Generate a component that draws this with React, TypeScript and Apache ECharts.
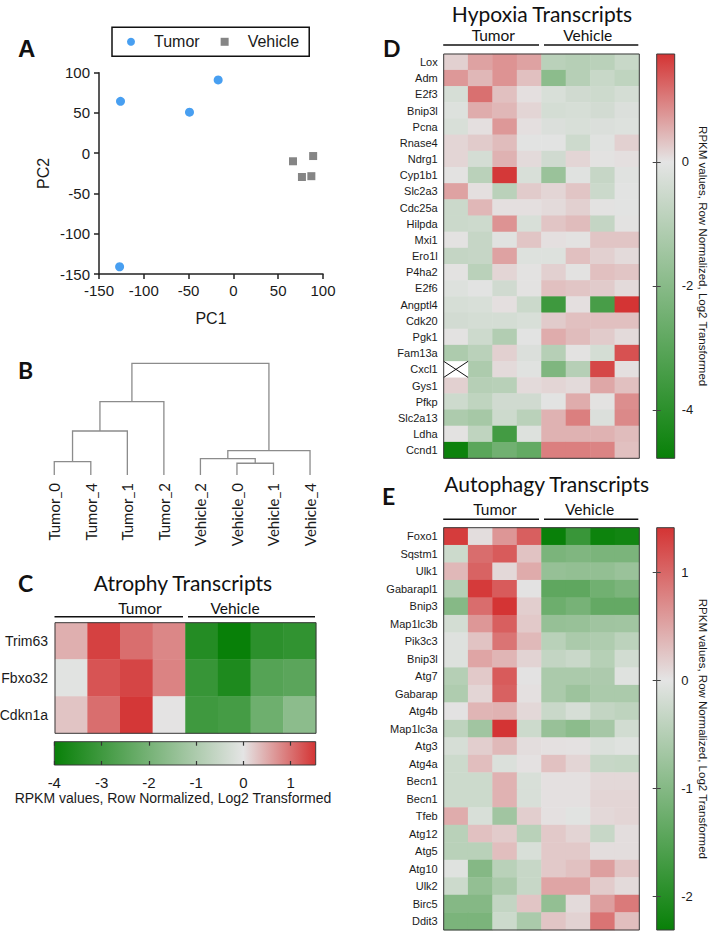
import React, { useEffect, useRef } from "react";
import * as echarts from "echarts";

// ---------------- DATA ----------------
const GROUPS = ["Tumor", "Vehicle"];
const SAMPLES = ["T1", "T2", "T3", "T4", "V1", "V2", "V3", "V4"];

// Panel A – PCA
const TUMOR_PC1 = [-126, -49, -17, -127];
const TUMOR_PC2 = [64.5, 51, 91, -141];
const VEHICLE_PC1 = [66.5, 89, 76.5, 87];
const VEHICLE_PC2 = [-10, -3.5, -29.5, -28.5];
const PC_MIN = -150;
const PC_MAX = 100;
const PC_STEP = 50;

// Panel B – dendrogram (leaves 0..7, merges create nodes 8..14)
const LEAVES = ["Tumor_0", "Tumor_4", "Tumor_1", "Tumor_2", "Vehicle_2", "Vehicle_0", "Vehicle_1", "Vehicle_4"];
const MERGE_A = [0, 5, 4, 10, 8, 12, 13];
const MERGE_B = [1, 6, 9, 7, 2, 3, 11];
const MERGE_H = [1.19, 1.05, 1.46, 2.18, 3.94, 6.56, 10];

// Panel C – atrophy
const ATROPHY_GENES = ["Trim63", "Fbxo32", "Cdkn1a"];
const ATROPHY_VALUES = [
  [0.46, 1.42, 1.03, 0.81, -3.5, -4.0, -3.35, -3.25],
  [-0.05, 1.25, 1.38, 0.85, -3.15, -3.6, -2.6, -2.5],
  [0.28, 1.03, 1.5, 0.0, -3.0, -2.9, -2.15, -1.6],
];
const ATROPHY_RANGE = [-4, 1.53];
const ATROPHY_TICKS = [-4, -3, -2, -1, 0, 1];

// Panel D – hypoxia
const HYPOXIA_GENES = ["Lox", "Adm", "E2f3", "Bnip3l", "Pcna", "Rnase4", "Ndrg1", "Cyp1b1", "Slc2a3", "Cdc25a", "Hilpda", "Mxi1", "Ero1l", "P4ha2", "E2f6", "Angptl4", "Cdk20", "Pgk1", "Fam13a", "Cxcl1", "Gys1", "Pfkp", "Slc2a13", "Ldha", "Ccnd1"];
const HYPOXIA_VALUES: (number | null)[][] = [
  [0.2, 0.65, 0.8, 0.65, -0.9, -1.0, -0.9, -0.6],
  [0.75, 0.45, 0.8, 0.35, -1.9, -1.0, -0.6, -0.8],
  [-0.3, 1.15, 0.35, 0.05, -0.25, -0.45, -0.5, -0.35],
  [-0.15, 0.55, 0.45, 0.15, -0.35, -0.3, -0.4, -0.2],
  [-0.25, 0.05, 0.75, 0.05, -0.2, -0.25, -0.2, -0.15],
  [0.15, 0.25, 0.4, -0.05, -0.05, -0.5, -0.1, 0.2],
  [0.15, -0.35, 0.5, 0.1, -0.45, 0.15, 0.0, 0.05],
  [0.0, -0.9, 1.7, -0.25, -1.6, -0.1, -0.65, -0.1],
  [0.65, 0.05, -0.9, 0.25, 0.15, 0.3, -0.55, -0.05],
  [-0.55, 0.45, 0.05, 0.05, 0.1, 0.2, 0.0, -0.05],
  [-0.55, -0.5, 0.8, -0.25, 0.3, 0.4, -0.7, 0.0],
  [0.0, -0.65, -0.1, 0.3, 0.05, 0.0, 0.3, 0.3],
  [-0.7, -0.65, 0.65, -0.15, -0.15, 0.35, 0.2, 0.1],
  [0.0, -0.9, 0.15, 0.0, 0.2, 0.0, 0.35, 0.3],
  [-0.15, -0.05, -0.45, 0.0, 0.35, 0.3, 0.25, 0.1],
  [-0.3, -0.25, 0.05, -0.55, -3.6, 0.05, -3.4, 1.74],
  [-0.4, -0.35, -0.35, -0.25, 0.25, 0.35, 0.35, 0.35],
  [0.0, -0.5, -1.1, -0.05, 0.55, 0.4, 0.25, 0.1],
  [-1.2, -0.9, 0.2, -0.2, -1.0, 0.0, -0.35, 1.45],
  [null, -1.2, 0.1, -0.1, -2.2, -1.0, 1.55, 0.05],
  [0.2, -1.0, -0.95, 0.1, 0.15, 0.1, 0.6, 0.35],
  [-0.5, -0.8, -0.45, -0.45, -0.05, 0.55, 0.0, 0.85],
  [-1.2, -1.35, -0.5, -0.9, 0.5, 1.0, -0.2, 0.9],
  [0.0, -0.8, -3.5, -0.15, 0.5, 0.5, 0.5, 0.4],
  [-4.7, -3.0, -2.5, -2.8, 1.0, 1.0, 0.95, 0.35],
];
const HYPOXIA_RANGE = [-4.78, 1.74];
const HYPOXIA_TICKS = [-4, -2, 0];

// Panel E – autophagy
const AUTOPHAGY_GENES = ["Foxo1", "Sqstm1", "Ulk1", "Gabarapl1", "Bnip3", "Map1lc3b", "Pik3c3", "Bnip3l", "Atg7", "Gabarap", "Atg4b", "Map1lc3a", "Atg3", "Atg4a", "Becn1", "Becn1", "Tfeb", "Atg12", "Atg5", "Atg10", "Ulk2", "Birc5", "Ddit3"];
const AUTOPHAGY_VALUES: (number | null)[][] = [
  [1.35, 0.05, 0.63, 1.07, -2.3, -1.8, -2.25, -2.2],
  [-0.25, 0.95, 1.1, 0.26, -1.1, -1.05, -1.1, -1.1],
  [0.35, 1.03, 0.1, 0.46, -0.82, -0.85, -0.85, -0.78],
  [-0.5, 1.36, 1.1, 0.0, -1.4, -1.4, -1.2, -1.1],
  [-0.98, 0.95, 1.41, 0.18, -1.25, -1.15, -1.35, -1.35],
  [-0.18, 0.62, 1.07, 0.22, -0.82, -0.8, -0.72, -0.7],
  [-0.07, 0.26, 0.9, 0.34, -0.45, -0.6, -0.55, -0.42],
  [-0.08, 0.5, 0.38, 0.14, -0.35, -0.28, -0.48, -0.2],
  [-0.5, 0.22, 1.1, 0.0, -0.6, -0.6, -0.58, -0.05],
  [-0.55, 0.12, 1.05, 0.03, -0.6, -0.75, -0.6, -0.6],
  [0.0, 0.38, 0.4, 0.1, -0.28, -0.15, -0.35, -0.4],
  [-0.4, -0.7, 1.41, -0.25, -0.8, -0.92, -0.65, -0.2],
  [-0.15, 0.18, 0.34, 0.05, 0.03, 0.02, -0.1, -0.05],
  [-0.25, 0.3, -0.1, 0.02, 0.28, 0.12, -0.3, -0.32],
  [-0.25, -0.25, 0.4, -0.12, 0.03, 0.03, 0.1, 0.1],
  [-0.25, -0.25, 0.4, -0.12, 0.03, 0.03, 0.12, 0.12],
  [0.45, -0.12, -0.7, 0.18, 0.03, -0.03, 0.1, 0.12],
  [-0.45, 0.28, 0.2, -0.45, 0.22, 0.13, -0.3, 0.05],
  [-0.45, -0.45, 0.3, -0.12, 0.22, 0.22, 0.05, 0.05],
  [-0.05, -1.0, -0.45, -0.3, 0.22, 0.28, 0.55, 0.25],
  [-0.25, -0.85, -0.6, -0.3, 0.5, 0.5, 0.2, 0.08],
  [-1.0, -1.0, -0.35, 0.25, -0.85, 0.08, 0.55, 0.85],
  [-1.1, -1.1, -0.25, -0.6, 0.25, 0.15, 0.9, 0.3],
];
const AUTOPHAGY_RANGE = [-2.31, 1.41];
const AUTOPHAGY_TICKS = [-2, -1, 0, 1];

const BAR_LABEL = "RPKM values, Row Normalized, Log2 Transformed";

// ---------------- STYLE / LAYOUT ----------------
const SANS = '"Liberation Sans", Arial, Helvetica, sans-serif';
const HUMAN = 'Lato, "Open Sans", sans-serif';
const INK = "#1a1a1a";
const GREEN = [8, 128, 8];
const GRAY = [228, 228, 228];
const RED = [212, 52, 52];

const L = {
  scatter: { left: 99, top: 72.7, width: 224, height: 201.3 },
  dendro: { left: 36, top: 363.3, width: 292.3, height: 111.7 },
  cHeat: { left: 55, top: 622.7, width: 261, height: 110.6 },
  cBar: { left: 54.3, top: 741.7, width: 261.4, height: 23.3 },
  dHeat: { left: 443.7, top: 54, width: 195.6, height: 404.3 },
  dBar: { left: 656.7, top: 54, width: 18, height: 404.3 },
  eHeat: { left: 443.7, top: 527.7, width: 195.6, height: 402.3 },
  eBar: { left: 656.7, top: 527.7, width: 17.5, height: 402.3 },
};

function mix(a: number[], b: number[], t: number) {
  const c = a.map((v, i) => Math.round(v + (b[i] - v) * t));
  return `rgb(${c[0]},${c[1]},${c[2]})`;
}
function scaleColors(min: number, max: number) {
  const n = 80;
  const out: string[] = [];
  for (let i = 0; i <= n; i++) {
    const v = min + ((max - min) * i) / n;
    out.push(v < 0 ? mix(GRAY, GREEN, v / min) : mix(GRAY, RED, v / max));
  }
  return out;
}
function cells(m: (number | null)[][]) {
  const out: number[][] = [];
  m.forEach((row, r) => row.forEach((v, c) => { if (v !== null) out.push([c, r, v]); }));
  return out;
}
function missing(m: (number | null)[][]) {
  const out: number[][] = [];
  m.forEach((row, r) => row.forEach((v, c) => { if (v === null) out.push([c, r]); }));
  return out;
}
function dendroSegments() {
  const xs: number[] = LEAVES.map((_, i) => i);
  const hs: number[] = LEAVES.map(() => 0);
  const segs: number[][] = [];
  MERGE_A.forEach((a, k) => {
    const b = MERGE_B[k];
    const h = MERGE_H[k];
    segs.push([xs[a], hs[a], xs[b], hs[b], h]);
    xs.push((xs[a] + xs[b]) / 2);
    hs.push(h);
  });
  return segs;
}
function gradient(range: number[], vertical: boolean) {
  const f0 = -range[0] / (range[1] - range[0]);
  const g = `rgb(${GREEN.join(",")})`, m = `rgb(${GRAY.join(",")})`, r = `rgb(${RED.join(",")})`;
  return vertical
    ? new echarts.graphic.LinearGradient(0, 0, 0, 1, [
        { offset: 0, color: r }, { offset: 1 - f0, color: m }, { offset: 1, color: g }])
    : new echarts.graphic.LinearGradient(0, 0, 1, 0, [
        { offset: 0, color: g }, { offset: f0, color: m }, { offset: 1, color: r }]);
}
function grid(r: any) {
  return { ...r, containLabel: false, outerBoundsMode: "none", show: false };
}
function frame(r: any) {
  return {
    type: "rect", z: 20, silent: true,
    shape: { x: r.left, y: r.top, width: r.width, height: r.height },
    style: { fill: "none", stroke: "#3a3a3a", lineWidth: 1 },
  };
}
function barRect(r: any, range: number[], vertical: boolean) {
  return {
    type: "rect", z: 1, silent: true,
    shape: { x: r.left, y: r.top, width: r.width, height: r.height },
    style: { fill: gradient(range, vertical), stroke: "#3a3a3a", lineWidth: 1 },
  };
}
function label(text: string, x: number, y: number, size: number, family: string, weight = "normal", align = "left") {
  return {
    type: "text", z: 20, silent: true, x, y,
    style: { text, fill: "#111", fontSize: size, fontFamily: family, fontWeight: weight, align, verticalAlign: "middle" },
  };
}
function header(r: any, lineY: number, textY: number, textX: number[]) {
  const mid = r.left + r.width / 2;
  const segs = [[r.left - 0.5, mid - 2.5], [mid + 2.5, r.left + r.width - 1]];
  const out: any[] = [];
  segs.forEach((s, i) => {
    out.push({ type: "line", z: 20, silent: true, shape: { x1: s[0], y1: lineY, x2: s[1], y2: lineY }, style: { stroke: "#111", lineWidth: 1.6 } });
    out.push(label(GROUPS[i], textX[i], textY, 15.5, HUMAN, "normal", "center"));
  });
  return out;
}
function heatX(gridIndex: number) {
  return { type: "category", gridIndex, data: SAMPLES, show: false, splitArea: { show: false } };
}
function heatY(gridIndex: number, genes: string[], size: number, margin: number) {
  return {
    type: "category", gridIndex, data: genes, inverse: true,
    axisLine: { show: false }, axisTick: { show: false }, splitArea: { show: false },
    axisLabel: { fontSize: size, fontFamily: SANS, color: INK, margin, interval: 0 },
  };
}
function barAxisV(gridIndex: number, range: number[], ticks: number[], position: string, labels: boolean) {
  return {
    type: "value", gridIndex, position, min: range[0], max: range[1], z: 5,
    axisLine: { show: false }, splitLine: { show: false },
    axisTick: { show: true, inside: true, length: 4, customValues: ticks, lineStyle: { color: "#444", width: 1 } },
    axisLabel: { show: labels, customValues: ticks, fontSize: 13, fontFamily: SANS, color: INK, margin: 7 },
    name: labels ? BAR_LABEL : "", nameLocation: "middle", nameRotate: -90, nameGap: 21,
    nameTextStyle: { fontSize: 11.5, fontFamily: SANS, color: INK },
  };
}

export default function App() {
  const ref = useRef<HTMLDivElement>(null);
  useEffect(() => {
    if (!ref.current) return;
    const chart = echarts.init(ref.current, undefined, { renderer: "svg" });
    const axisLine = { show: true, onZero: false, lineStyle: { color: "#222", width: 1.5 } };
    const option: any = {
      animation: false,
      textStyle: { fontFamily: SANS },
      grid: [grid(L.scatter), grid(L.dendro), grid(L.cHeat), grid(L.cBar), grid(L.dHeat), grid(L.dBar), grid(L.eHeat), grid(L.eBar)],
      legend: {
        left: 112, top: 27.3, orient: "horizontal",
        padding: [6, 10, 6, 15], itemGap: 21, itemWidth: 8, itemHeight: 8,
        borderColor: "#111", borderWidth: 1.5, selectedMode: false,
        textStyle: { fontSize: 16, fontFamily: SANS, color: INK, lineHeight: 17, padding: [0, 0, 0, 14] },
        data: [{ name: "Tumor", icon: "circle" }, { name: "Vehicle", icon: "rect" }],
      },
      xAxis: [
        {
          type: "value", gridIndex: 0, min: PC_MIN, max: PC_MAX, interval: PC_STEP,
          axisLine, axisTick: { show: true, length: 5, lineStyle: { color: "#222", width: 1.5 } },
          axisLabel: { fontSize: 15, color: INK, margin: 9, fontFamily: SANS }, splitLine: { show: false },
          name: "PC1", nameLocation: "middle", nameGap: 36, nameTextStyle: { fontSize: 16, color: INK, fontFamily: SANS },
        },
        {
          type: "category", gridIndex: 1, data: LEAVES, boundaryGap: true,
          axisLine: { show: false }, axisTick: { show: false },
          axisLabel: { rotate: 90, fontSize: 15, fontFamily: HUMAN, color: INK, margin: 8, interval: 0 },
        },
        { type: "value", gridIndex: 1, min: -0.5, max: 7.5, show: false, position: "top" },
        heatX(2),
        {
          type: "value", gridIndex: 3, min: ATROPHY_RANGE[0], max: ATROPHY_RANGE[1], position: "bottom", z: 5,
          axisLine: { show: false }, splitLine: { show: false },
          axisTick: { show: true, inside: true, length: 4, customValues: ATROPHY_TICKS, lineStyle: { color: "#333", width: 1.2 } },
          axisLabel: { customValues: ATROPHY_TICKS, fontSize: 15, color: INK, margin: 10, fontFamily: SANS },
          name: BAR_LABEL, nameLocation: "middle", nameGap: 26,
          nameTextStyle: { fontSize: 14, color: INK, fontFamily: SANS, padding: [0, 24, 0, 0] },
        },
        {
          type: "value", gridIndex: 3, min: ATROPHY_RANGE[0], max: ATROPHY_RANGE[1], position: "top", z: 5,
          axisLine: { show: false }, splitLine: { show: false },
          axisTick: { show: true, inside: true, length: 4, customValues: ATROPHY_TICKS, lineStyle: { color: "#333", width: 1.2 } },
          axisLabel: { show: false },
        },
        heatX(4),
        { type: "value", gridIndex: 5, show: false },
        heatX(6),
        { type: "value", gridIndex: 7, show: false },
      ],
      yAxis: [
        {
          type: "value", gridIndex: 0, min: PC_MIN, max: PC_MAX, interval: PC_STEP,
          axisLine, axisTick: { show: true, length: 5, lineStyle: { color: "#222", width: 1.5 } },
          axisLabel: { fontSize: 15, color: INK, margin: 9, fontFamily: SANS }, splitLine: { show: false },
          name: "PC2", nameLocation: "middle", nameGap: 48, nameTextStyle: { fontSize: 16, color: INK, fontFamily: SANS },
        },
        { type: "value", gridIndex: 1, min: 0, max: 10, show: false },
        heatY(2, ATROPHY_GENES, 14, 7),
        { type: "value", gridIndex: 3, show: false },
        heatY(4, HYPOXIA_GENES, 11, 6),
        barAxisV(5, HYPOXIA_RANGE, HYPOXIA_TICKS, "right", true),
        barAxisV(5, HYPOXIA_RANGE, HYPOXIA_TICKS, "left", false),
        heatY(6, AUTOPHAGY_GENES, 11, 6),
        barAxisV(7, AUTOPHAGY_RANGE, AUTOPHAGY_TICKS, "right", true),
        barAxisV(7, AUTOPHAGY_RANGE, AUTOPHAGY_TICKS, "left", false),
      ],
      visualMap: [
        { type: "continuous", show: false, seriesIndex: 3, min: ATROPHY_RANGE[0], max: ATROPHY_RANGE[1], inRange: { color: scaleColors(ATROPHY_RANGE[0], ATROPHY_RANGE[1]) } },
        { type: "continuous", show: false, seriesIndex: 4, min: HYPOXIA_RANGE[0], max: HYPOXIA_RANGE[1], inRange: { color: scaleColors(HYPOXIA_RANGE[0], HYPOXIA_RANGE[1]) } },
        { type: "continuous", show: false, seriesIndex: 6, min: AUTOPHAGY_RANGE[0], max: AUTOPHAGY_RANGE[1], inRange: { color: scaleColors(AUTOPHAGY_RANGE[0], AUTOPHAGY_RANGE[1]) } },
      ],
      series: [
        {
          name: "Tumor", type: "scatter", xAxisIndex: 0, yAxisIndex: 0, symbol: "circle", symbolSize: 9,
          itemStyle: { color: "#1a87ee" }, data: TUMOR_PC1.map((x, i) => [x, TUMOR_PC2[i]]),
        },
        {
          name: "Vehicle", type: "scatter", xAxisIndex: 0, yAxisIndex: 0, symbol: "rect", symbolSize: 8,
          itemStyle: { color: "#666666" }, data: VEHICLE_PC1.map((x, i) => [x, VEHICLE_PC2[i]]),
        },
        {
          type: "custom", xAxisIndex: 2, yAxisIndex: 1, silent: true,
          encode: { x: [0, 2], y: [1, 3, 4] },
          data: dendroSegments(),
          renderItem: (_p: any, api: any) => {
            const a = api.coord([api.value(0), api.value(1)]);
            const a2 = api.coord([api.value(0), api.value(4)]);
            const b2 = api.coord([api.value(2), api.value(4)]);
            const b = api.coord([api.value(2), api.value(3)]);
            return { type: "polyline", shape: { points: [a, a2, b2, b] }, style: { stroke: "#8c8c8c", lineWidth: 1.3, fill: null } };
          },
        },
        { type: "heatmap", xAxisIndex: 3, yAxisIndex: 2, data: cells(ATROPHY_VALUES), silent: true, itemStyle: { borderWidth: 0 } },
        { type: "heatmap", xAxisIndex: 6, yAxisIndex: 4, data: cells(HYPOXIA_VALUES), silent: true, itemStyle: { borderWidth: 0 } },
        {
          type: "custom", xAxisIndex: 6, yAxisIndex: 4, silent: true, data: missing(HYPOXIA_VALUES),
          renderItem: (_p: any, api: any) => {
            const c = api.coord([api.value(0), api.value(1)]);
            const s = api.size([1, 1]);
            const x0 = c[0] - s[0] / 2, y0 = c[1] - s[1] / 2;
            return {
              type: "group",
              children: [
                { type: "rect", shape: { x: x0, y: y0, width: s[0], height: s[1] }, style: { fill: "#ffffff" } },
                { type: "line", shape: { x1: x0, y1: y0, x2: x0 + s[0], y2: y0 + s[1] }, style: { stroke: "#111", lineWidth: 1 } },
                { type: "line", shape: { x1: x0, y1: y0 + s[1], x2: x0 + s[0], y2: y0 }, style: { stroke: "#111", lineWidth: 1 } },
              ],
            };
          },
        },
        { type: "heatmap", xAxisIndex: 8, yAxisIndex: 7, data: cells(AUTOPHAGY_VALUES), silent: true, itemStyle: { borderWidth: 0 } },
      ],
      graphic: [
        label("A", 18, 48, 24, SANS, "bold"),
        label("B", 18, 370, 23, HUMAN, "bold"),
        label("C", 18, 583, 23, HUMAN, "bold"),
        label("D", 383, 48, 23, HUMAN, "bold"),
        label("E", 382, 496, 23, HUMAN, "bold"),
        label("Atrophy Transcripts", 183, 582, 21, HUMAN, "normal", "center"),
        label("Hypoxia Transcripts", 542, 13, 21, HUMAN, "normal", "center"),
        label("Autophagy Transcripts", 546.7, 483.5, 21, HUMAN, "normal", "center"),
        ...header(L.cHeat, 616.7, 607.5, [140, 235]),
        ...header(L.dHeat, 45, 35, [493.3, 587.7]),
        ...header(L.eHeat, 519.3, 509.3, [495, 589.5]),
        frame(L.cHeat),
        frame(L.dHeat),
        frame(L.eHeat),
        barRect(L.cBar, ATROPHY_RANGE, false),
        barRect(L.dBar, HYPOXIA_RANGE, true),
        barRect(L.eBar, AUTOPHAGY_RANGE, true),
      ],
    };
    chart.setOption(option);
    return () => chart.dispose();
  }, []);
  return <div ref={ref} style={{ position: "absolute", left: 0, top: 0, width: 709, height: 932, background: "#fff" }} />;
}
